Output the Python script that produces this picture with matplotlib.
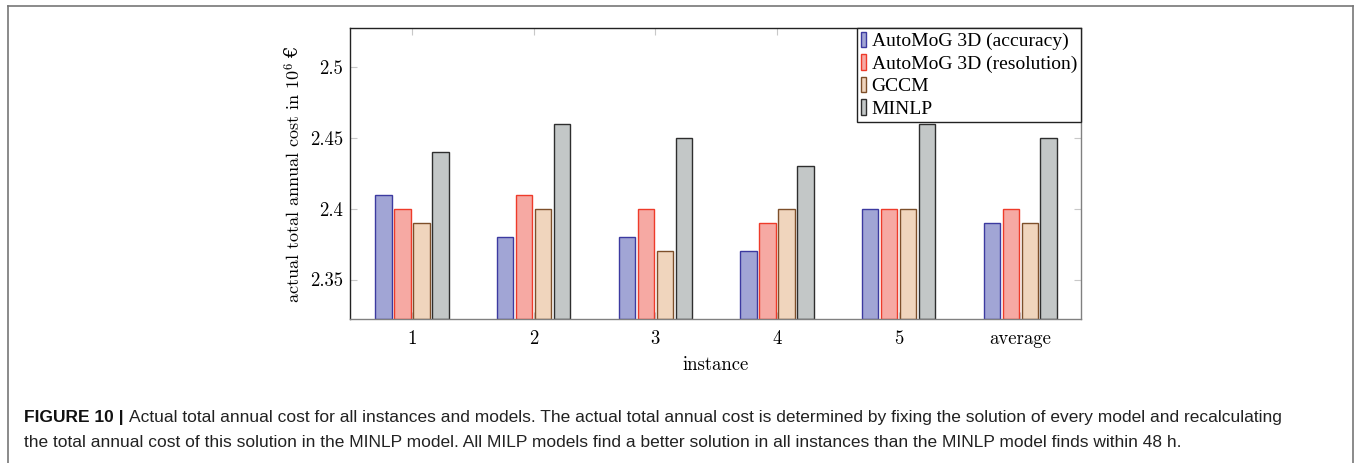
import matplotlib
matplotlib.use("Agg")
import matplotlib.pyplot as plt
import numpy as np
from matplotlib.lines import Line2D

# ---- data ----
instances = ["1", "2", "3", "4", "5", "average"]
series_names = ["AutoMoG 3D (accuracy)", "AutoMoG 3D (resolution)", "GCCM", "MINLP"]
accuracy = [2.41, 2.38, 2.38, 2.37, 2.40, 2.39]
resolution = [2.40, 2.41, 2.40, 2.39, 2.40, 2.40]
gccm = [2.39, 2.40, 2.37, 2.40, 2.40, 2.39]
minlp = [2.44, 2.46, 2.45, 2.43, 2.46, 2.45]
yticks = [2.35, 2.40, 2.45, 2.50]
ytick_labels = ["2.35", "2.4", "2.45", "2.5"]

caption_bold = "FIGURE 10 |"
caption_line1 = ("Actual total annual cost for all instances and models. The actual total annual cost is "
                 "determined by fixing the solution of every model and recalculating")
caption_line2 = ("the total annual cost of this solution in the MINLP model. All MILP models find a better "
                 "solution in all instances than the MINLP model finds within 48 h.")

# ---- style ----
fills = ["#a1a5d5", "#f6a9a3", "#f0d5bd", "#c3c7c7"]
edges = ["#3c3aa0", "#ee3b2a", "#7d4f2a", "#2e2e2e"]

plt.rcParams["mathtext.fontset"] = "cm"
plt.rcParams["axes.formatter.use_mathtext"] = True
cm_family = ["cmr10", "DejaVu Serif"]
tfs = 13.5
lfs = 13.0

W, H = 1356, 463
fig = plt.figure(figsize=(W / 100, H / 100), dpi=100)
ax = fig.add_axes([350 / W, 1 - 318.5 / H, 731 / W, 290.5 / H])

x = np.arange(1, len(instances) + 1)
step = 0.156
bw = 0.134
all_series = [accuracy, resolution, gccm, minlp]
ymin, ymax = 2.3225, 2.5275
for i, (vals, name) in enumerate(zip(all_series, series_names)):
    off = (i - 1.5) * step
    ax.bar(x + off, np.array(vals) - ymin, bottom=ymin, width=bw, color=fills[i],
           edgecolor=edges[i], linewidth=1.0, label=name, zorder=2)

ax.set_xlim(0.49, 6.5)
ax.set_ylim(ymin, ymax)
ax.set_xticks(x)
ax.set_xticklabels(instances, family=cm_family, fontsize=tfs)
ax.set_yticks(yticks)
ax.set_yticklabels(ytick_labels, family=cm_family, fontsize=tfs)
ax.tick_params(axis="both", direction="in", length=5, width=0.8, color="#c8c8c8",
               top=True, right=True)
ax.tick_params(axis="x", pad=8)
ax.tick_params(axis="y", pad=5)

for side in ["left", "top"]:
    ax.spines[side].set_color("#222222")
    ax.spines[side].set_linewidth(1.0)
for side in ["bottom", "right"]:
    ax.spines[side].set_color("#808080")
    ax.spines[side].set_linewidth(1.0)

ax.set_xlabel("instance", family=cm_family, fontsize=tfs, labelpad=6)
ylab = ax.set_ylabel("actual total annual cost in $10^6$", family=cm_family, fontsize=lfs)
ax.yaxis.set_label_coords(-0.064, 0.47)

leg = ax.legend(loc="upper right", bbox_to_anchor=(1, 1), borderaxespad=0,
                prop={"family": "Liberation Serif", "size": 14}, frameon=True, fancybox=False,
                edgecolor="#222222", framealpha=1, handlelength=0.25, handleheight=0.85,
                handletextpad=0.3, labelspacing=0.2, borderpad=0.2)
leg.get_frame().set_linewidth(1.0)
leg.set_zorder(5)

# figure frame (left, top, right)
fc = "#777777"
fig.add_artist(Line2D([8 / W, 8 / W], [0, 1 - 6 / H], transform=fig.transFigure, color=fc, lw=1.2))
fig.add_artist(Line2D([8 / W, 1353 / W], [1 - 6 / H, 1 - 6 / H], transform=fig.transFigure, color=fc, lw=1.2))
fig.add_artist(Line2D([1353 / W, 1353 / W], [0, 1 - 6 / H], transform=fig.transFigure, color=fc, lw=1.2))

renderer = fig.canvas.get_renderer()

# euro sign appended to the y label
ye = ylab.get_window_extent(renderer)
fig.text((ye.x0 + ye.x1) / 2 / W, (ye.y1 + 3) / H, "€", family="DejaVu Serif", fontsize=lfs,
         rotation=90, ha="center", va="bottom")

# caption
cap_font = "Liberation Sans"
fs = 12.6
tb = fig.text(24 / W, 1 - 422 / H, caption_bold, family=cap_font, weight="bold", fontsize=fs,
              va="baseline", ha="left", color="#111111")
bb = tb.get_window_extent(renderer)
t1 = fig.text((bb.x1 + 5) / W, 1 - 422 / H, caption_line1, family=cap_font, fontsize=fs,
              va="baseline", ha="left", color="#222222")
t2 = fig.text(24 / W, 1 - 447 / H, caption_line2, family=cap_font, fontsize=fs,
              va="baseline", ha="left", color="#222222")
e1 = t1.get_window_extent(renderer)
scale = (1279 - 24) / (e1.x1 - 24)
fs2 = fs * scale
tb.set_fontsize(fs2)
bb = tb.get_window_extent(renderer)
t1.set_fontsize(fs2)
t1.set_x((bb.x1 + 5) / W)
t2.set_fontsize(fs2)

fig.savefig("out.png", dpi=100)
